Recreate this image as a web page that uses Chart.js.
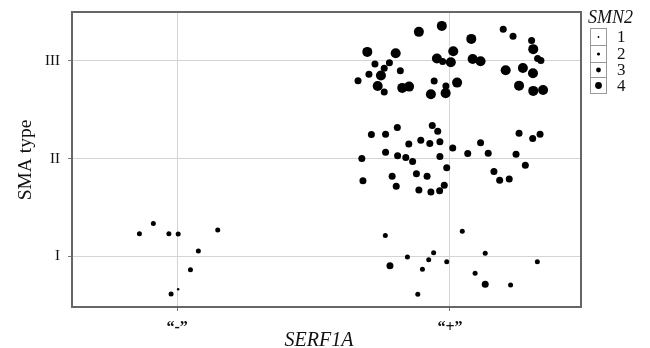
<!DOCTYPE html>
<html>
<head>
<meta charset="utf-8">
<script src="https://cdn.jsdelivr.net/npm/chart.js@4/dist/chart.umd.min.js"></script>
<style>
html,body{margin:0;padding:0;background:#fff;}
#wrap{position:relative;width:650px;height:348px;}
</style>
</head>
<body>
<div id="wrap"><canvas id="c" width="650" height="348"></canvas></div>
<script>
// Category labels
const xCategories = ['\u201C-\u201D', '\u201C+\u201D'];   // SERF1A: 1 = "-", 2 = "+"
const yCategories = ['I', 'II', 'III'];                  // SMA type: 1, 2, 3
const smn2Levels = [1, 2, 3, 4];

// Jittered points (x in SERF1A category units, y in SMA type units, n = SMN2 copies)
const negI_x = [0.862,0.913,0.970,1.004,1.149,1.078,1.049,1.004,0.978];
const negI_y = [1.233,1.336,1.233,1.230,1.271,1.056,0.865,0.664,0.616];
const negI_n = [2,2,2,2,2,2,2,1,2];

const posI_x = [1.763,2.045,1.844,1.940,1.922,1.988,2.129,2.320,1.780,1.899,2.092,2.129,2.222,1.882];
const posI_y = [1.213,1.258,0.995,1.039,0.967,0.947,1.033,0.947,0.906,0.869,0.828,0.716,0.708,0.613];
const posI_n = [2,2,2,2,2,2,2,2,3,2,2,3,2,2];

const posII_x = [1.712,1.764,1.807,1.935,1.955,1.849,1.893,1.926,1.963,2.010,2.112,2.253,2.303,2.330,1.677,1.764,1.808,1.838,1.863,1.963,2.065,2.140,2.242,2.276,1.988,2.161,2.182,2.217,1.681,1.788,1.877,1.916,1.803,1.886,1.930,1.962,1.979];
const posII_y = [2.246,2.250,2.318,2.338,2.281,2.151,2.189,2.154,2.174,2.110,2.164,2.260,2.205,2.250,2.001,2.066,2.031,2.011,1.970,2.021,2.052,2.056,2.046,1.933,1.908,1.868,1.780,1.793,1.775,1.820,1.847,1.820,1.718,1.680,1.660,1.673,1.728];
const posII_n = [3,3,3,3,3,3,3,3,3,3,3,3,3,3,3,3,3,3,3,3,3,3,3,3,3,3,3,3,3,3,3,3,3,3,3,3,3];

const posIII_x = [1.886,1.970,1.697,1.801,1.725,1.778,1.759,1.818,1.703,1.747,1.663,1.735,1.759,1.825,1.850,1.952,1.973,2.003,2.012,2.078,2.083,2.112,1.942,2.026,1.985,1.930,1.984,2.195,2.231,2.299,2.305,2.321,2.333,2.204,2.267,2.304,2.253,2.305,2.341];
const posIII_y = [3.297,3.358,3.092,3.079,2.969,2.980,2.925,2.898,2.864,2.850,2.798,2.744,2.683,2.724,2.737,3.024,2.993,2.987,3.099,3.225,3.020,2.997,2.795,2.778,2.744,2.659,2.670,3.324,3.253,3.208,3.120,3.024,3.003,2.905,2.928,2.874,2.747,2.693,2.703];
const posIII_n = [4,4,4,4,3,3,3,3,3,4,3,4,3,4,4,4,3,4,4,4,4,4,3,4,3,4,4,3,3,3,4,3,3,4,4,4,4,4,4];

const groups = [
  [negI_x, negI_y, negI_n],
  [posI_x, posI_y, posI_n],
  [posII_x, posII_y, posII_n],
  [posIII_x, posIII_y, posIII_n]
];
const radius = {1: 1.2, 2: 2.5, 3: 3.5, 4: 5};
const legendRadius = {1: 0.9, 2: 1.6, 3: 2.4, 4: 3.4};

const datasets = smn2Levels.map(level => {
  const data = [];
  groups.forEach(([xs, ys, ns]) => {
    xs.forEach((x, i) => { if (ns[i] === level) data.push({x: x, y: ys[i]}); });
  });
  return {
    label: String(level),
    data: data,
    pointRadius: radius[level],
    pointHoverRadius: radius[level],
    backgroundColor: '#000',
    borderColor: '#000',
    borderWidth: 0
  };
});

const FONT = "'Liberation Serif', 'DejaVu Serif', serif";

const decor = {
  id: 'decor',
  afterDraw(chart) {
    const ctx = chart.ctx;
    const a = chart.chartArea;
    ctx.save();
    // frame
    ctx.strokeStyle = '#666';
    ctx.lineWidth = 2;
    ctx.strokeRect(a.left, a.top, a.right - a.left, a.bottom - a.top);
    // axis titles
    ctx.fillStyle = '#111';
    ctx.font = "19.5px " + FONT;
    ctx.textAlign = 'center';
    ctx.textBaseline = 'middle';
    ctx.save();
    ctx.translate(26, 160);
    ctx.rotate(-Math.PI / 2);
    ctx.fillText('SMA type', 0, 0);
    ctx.restore();
    ctx.font = "italic 20px " + FONT;
    ctx.textBaseline = 'alphabetic';
    ctx.fillText('SERF1A', 319, 346);
    // legend
    ctx.font = "italic 18px " + FONT;
    ctx.textAlign = 'left';
    ctx.fillText('SMN2', 588, 23);
    const rows = [[28, 45], [45, 62], [62, 77], [77, 93]];
    ctx.strokeStyle = '#999';
    ctx.lineWidth = 1;
    ctx.font = "17px " + FONT;
    smn2Levels.forEach((lv, i) => {
      const [t, b] = rows[i];
      ctx.strokeRect(590.5, t + 0.5, 16, b - t);
      const cy = (t + b) / 2 + 0.5;
      ctx.beginPath();
      ctx.arc(598.5, cy, legendRadius[lv], 0, Math.PI * 2);
      ctx.fillStyle = '#000';
      ctx.fill();
      ctx.fillStyle = '#111';
      ctx.textBaseline = 'middle';
      ctx.fillText(String(lv), 617, cy + 1);
    });
    ctx.restore();
  }
};

new Chart(document.getElementById('c'), {
  type: 'scatter',
  data: { datasets: datasets },
  options: {
    responsive: false,
    animation: false,
    events: [],
    layout: { padding: { top: 12, right: 69, left: 0, bottom: 0 } },
    plugins: { legend: { display: false }, tooltip: { enabled: false } },
    scales: {
      x: {
        type: 'linear',
        min: 0.615, max: 2.48,
        afterFit(s) { s.height = 41; s.paddingLeft = 0; s.paddingRight = 0; },
        afterBuildTicks(s) { s.ticks = xCategories.map((_, i) => ({value: i + 1})); },
        border: { display: false },
        grid: { color: '#d4d4d4', lineWidth: 1, tickLength: 4, tickColor: '#777' },
        ticks: {
          padding: 7,
          color: '#111',
          font: { family: FONT, size: 16, weight: 'bold' },
          callback: v => xCategories[Math.round(v) - 1] || ''
        }
      },
      y: {
        type: 'linear',
        min: 0.483, max: 3.5,
        afterFit(s) { s.width = 72; s.paddingTop = 0; s.paddingBottom = 0; },
        afterBuildTicks(s) { s.ticks = yCategories.map((_, i) => ({value: i + 1})); },
        border: { display: false },
        grid: { color: '#d4d4d4', lineWidth: 1, tickLength: 4, tickColor: '#777' },
        ticks: {
          padding: 8,
          color: '#111',
          font: { family: FONT, size: 15 },
          callback: v => yCategories[Math.round(v) - 1] || ''
        }
      }
    }
  },
  plugins: [decor]
});
</script>
</body>
</html>
